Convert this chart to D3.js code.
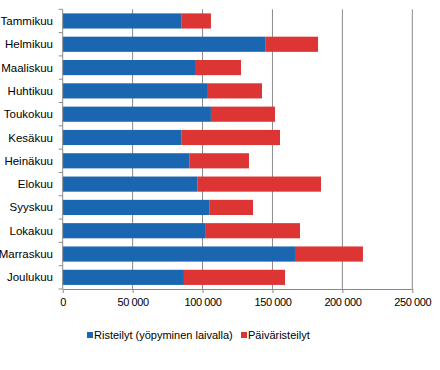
<!DOCTYPE html>
<html>
<head>
<meta charset="utf-8">
<script src="https://cdn.jsdelivr.net/npm/d3@7"></script>
<style>
  body { margin: 0; background: #fff; }
  svg { font-family: 'Liberation Sans', Arial, sans-serif; }
</style>
</head>
<body>
<svg id="canvas" width="440" height="370"></svg>
<script>
let months = ['Tammikuu', 'Helmikuu', 'Maaliskuu', 'Huhtikuu', 'Toukokuu', 'Kesäkuu',
  'Heinäkuu', 'Elokuu', 'Syyskuu', 'Lokakuu', 'Marraskuu', 'Joulukuu'];
let cruises = [85100, 145200, 94600, 103200, 106000, 85100, 90800, 96500, 105100, 101800, 166100, 86700];
let dayCruises = [20900, 37400, 32900, 39300, 45800, 70300, 42400, 88200, 31000, 67900, 48600, 72300];
let xTicks = [0, 50000, 100000, 150000, 200000, 250000];
let seriesNames = ['Risteilyt (yöpyminen laivalla)', 'Päiväristeilyt'];
let colors = ['#1a66b0', '#dd3434'];

let canvas = d3.select('#canvas');
let plotLeft = 62.7, plotRight = 412.3, plotTop = 9.3, plotBottom = 289;

let x = d3.scaleLinear().domain([0, 250000]).range([plotLeft, plotRight]);
let y = d3.scaleBand().domain(months).range([plotTop, plotBottom]).paddingInner(0.35).paddingOuter(0.175);

// gridlines
canvas.selectAll('.grid')
  .data(xTicks.slice(1))
  .enter()
  .append('line')
  .attr('x1', d => x(d)).attr('x2', d => x(d))
  .attr('y1', plotTop).attr('y2', plotBottom)
  .attr('stroke', '#8a8a8a').attr('stroke-width', 1);

let rows = months.map((m, i) => ({ month: m, a: cruises[i], b: dayCruises[i] }));

canvas.selectAll('.barA')
  .data(rows)
  .enter()
  .append('rect')
  .attr('x', x(0))
  .attr('y', d => y(d.month))
  .attr('width', d => x(d.a) - x(0))
  .attr('height', y.bandwidth())
  .attr('fill', colors[0]);

canvas.selectAll('.barB')
  .data(rows)
  .enter()
  .append('rect')
  .attr('x', d => x(d.a))
  .attr('y', d => y(d.month))
  .attr('width', d => x(d.a + d.b) - x(d.a))
  .attr('height', y.bandwidth())
  .attr('fill', colors[1]);

// x axis
let xAxis = d3.axisBottom(x).tickValues(xTicks).tickSize(4).tickSizeOuter(0)
  .tickFormat(d => d3.format(',')(d).replace(/,/g, ' '));
let gx = canvas.append('g').attr('transform', 'translate(0,' + plotBottom + ')').call(xAxis);
gx.select('.domain').attr('stroke', '#8a8a8a');
gx.selectAll('.tick line').attr('stroke', '#8a8a8a');
gx.selectAll('.tick text').attr('font-size', 11).attr('fill', '#000').attr('dy', '0.9em')
  .style('letter-spacing', '-0.4px').attr('font-family', "'Liberation Sans', Arial, sans-serif");

// y axis with ticks at band boundaries
let gy = canvas.append('g');
gy.append('line').attr('x1', plotLeft).attr('x2', plotLeft).attr('y1', plotTop).attr('y2', plotBottom)
  .attr('stroke', '#8a8a8a');
let step = y.step();
gy.selectAll('.ytick')
  .data(d3.range(months.length + 1))
  .enter()
  .append('line')
  .attr('x1', plotLeft - 4).attr('x2', plotLeft)
  .attr('y1', i => plotTop + i * step).attr('y2', i => plotTop + i * step)
  .attr('stroke', '#8a8a8a');
gy.selectAll('.ylabel')
  .data(months)
  .enter()
  .append('text')
  .attr('x', 53)
  .attr('y', d => y(d) + y.bandwidth() / 2)
  .attr('dy', '0.35em')
  .attr('text-anchor', 'end')
  .attr('font-size', 11.5)
  .text(d => d);

// legend
let legend = canvas.append('g');
let lx = [87, 241];
seriesNames.forEach((name, i) => {
  legend.append('rect').attr('x', lx[i]).attr('y', 332).attr('width', 6).attr('height', 6).attr('fill', colors[i]);
  legend.append('text').attr('x', lx[i] + 7).attr('y', 335).attr('dy', '0.35em')
    .attr('font-size', 11).text(name);
});
</script>
</body>
</html>
